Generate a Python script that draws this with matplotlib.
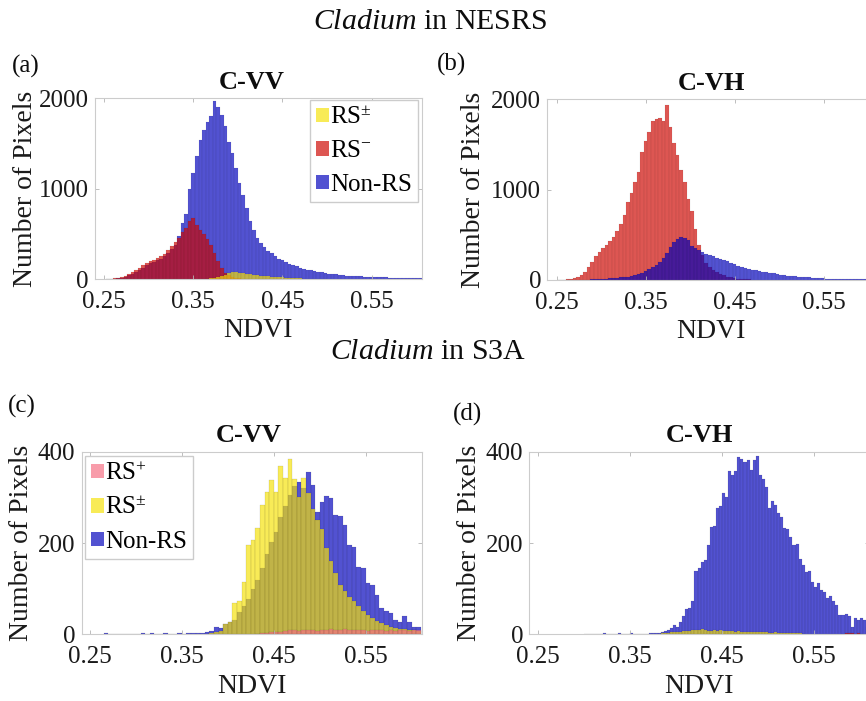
import numpy as np
import matplotlib
matplotlib.use('Agg')
import matplotlib.pyplot as plt
from matplotlib.patches import Patch

plt.rcParams['font.family'] = ['Liberation Serif', 'DejaVu Serif']
plt.rcParams['mathtext.fontset'] = 'custom'
plt.rcParams['mathtext.rm'] = 'Liberation Serif'
plt.rcParams['mathtext.it'] = 'Liberation Serif:italic'
plt.rcParams['mathtext.bf'] = 'Liberation Serif:bold'

# ---- data: bar heights (start = left edge of first bin) ----
# (a) Cladium in NESRS, C-VV
a_width = 0.004
a_blue_start = 0.252
a_blue = [2, 3, 5, 10, 16, 26, 40, 55, 78, 100, 125, 150, 172, 192, 206, 225, 250, 290, 330, 380, 480,
          620, 720, 1000, 1170, 1360, 1540, 1650, 1740, 1800, 1970, 1900, 1810, 1690, 1520, 1400, 1230,
          1060, 930, 790, 640, 540, 450, 400, 350, 315, 285, 250, 225, 205, 185, 165, 150, 140, 125,
          115, 100, 95, 88, 80, 72, 66, 60, 55, 50, 45, 42, 38, 35, 32, 30, 28, 26, 24, 22, 21, 20, 19,
          18, 16, 15, 14, 13, 12, 11, 10, 9, 9, 8]
a_red_start = 0.252
a_red = [0, 2, 6, 14, 24, 38, 55, 75, 100, 125, 150, 175, 200, 215, 232, 250, 280, 320, 365, 410, 455,
         520, 560, 640, 675, 600, 545, 500, 445, 380, 290, 200, 120, 70, 40, 22, 14, 8, 5, 3, 1]
a_yellow_start = 0.360
a_yellow = [2, 4, 8, 14, 22, 32, 48, 62, 74, 80, 70, 62, 56, 52, 46, 42, 37, 33, 29, 26, 23, 20, 17,
            15, 12, 10, 8, 7, 5, 4, 3, 3, 2, 2, 1]

# (b) Cladium in NESRS, C-VH
b_width = 0.004
b_red_start = 0.252
b_red = [0, 3, 8, 14, 20, 32, 55, 90, 140, 200, 265, 310, 350, 390, 430, 480, 545, 620, 720, 860, 960,
         1080, 1200, 1420, 1540, 1640, 1760, 1780, 1790, 1760, 1940, 1690, 1520, 1380, 1220, 1090, 900,
         760, 560, 390, 280, 190, 140, 110, 85, 65, 50, 38, 28, 20, 15, 11, 8, 6, 4, 3, 2, 1]
b_blue_start = 0.252
b_blue = [0, 0, 0, 1, 1, 2, 3, 4, 5, 7, 9, 11, 13, 16, 18, 20, 24, 28, 32, 38, 45, 55, 68, 82, 100, 120,
          140, 170, 200, 240, 300, 360, 420, 450, 480, 460, 440, 380, 350, 330, 315, 290, 280, 270, 245,
          230, 220, 205, 190, 180, 160, 145, 130, 125, 115, 110, 100, 92, 85, 78, 72, 65, 58, 52, 47, 43,
          40, 36, 33, 30, 28, 25, 22, 20, 18, 16, 15, 14, 13, 12, 12, 11, 11, 10, 10, 10, 9, 9, 8]

# (c) Cladium in S3A, C-VV
c_width = 0.005
c_blue_start = 0.265
c_blue = [2, 0, 0, 0, 0, 1, 0, 1, 3, 1, 2, 1, 1, 2, 1, 1, 2, 1, 2, 2, 3, 3, 5, 8, 15, 14, 22, 26, 32,
          48, 62, 78, 100, 118, 145, 175, 203, 225, 258, 280, 305, 325, 334, 320, 356, 328, 269, 290,
          303, 298, 261, 260, 239, 196, 192, 148, 146, 112, 108, 86, 57, 50, 46, 31, 28, 39, 28, 15, 17]
c_yellow_start = 0.375
c_yellow = [1, 2, 4, 8, 22, 28, 68, 72, 115, 196, 207, 232, 283, 311, 338, 312, 369, 342, 384, 340,
            300, 342, 310, 275, 250, 230, 190, 160, 135, 108, 95, 82, 72, 62, 52, 42, 36, 30, 24, 20,
            17, 14, 12, 11, 10, 9, 8]
c_pink_start = 0.430
c_pink = [1, 2, 3, 4, 5, 6, 8, 10, 9, 8, 10, 9, 10, 8, 9, 10, 11, 10, 9, 11, 10, 9, 10, 9, 8, 9, 10,
          9, 8, 9, 8, 10, 9, 8, 10, 9]

# (d) Cladium in S3A, C-VH
d_width = 0.1 / 30
d_blue_start = 0.300
d_blue = [1, 0, 0, 0, 1, 0, 2, 0, 1, 1, 0, 2, 1, 1, 1, 2, 1, 1,
          1, 1, 1, 2, 2, 3, 3, 5, 7, 9, 14, 20, 17, 26, 41, 55, 57, 72, 139, 146, 159, 163, 196, 234,
          237, 276, 282, 310, 301, 358, 350, 358, 389, 385, 378, 381, 360, 382, 391, 350, 340, 323, 276,
          291, 283, 265, 258, 232, 231, 214, 196, 197, 166, 152, 137, 139, 115, 104, 112, 97, 93, 79,
          84, 72, 64, 42, 42, 44, 39, 17, 35, 31, 35, 31, 17]
d_yellow_start = 0.380
d_yellow = [1, 2, 2, 3, 4, 5, 6, 6, 7, 8, 8, 9, 10, 9, 12, 9, 8, 8, 9, 8, 10, 7, 8, 7, 8, 6, 7, 6, 5, 6,
            5, 5, 4, 5, 4, 4, 3, 3, 4, 3, 3, 2, 3, 2, 2, 2, 2, 1]
d_red_start = 0.580
d_red = [1, 2, 3, 2, 1, 2, 1]

xtick_vals = [0.25, 0.35, 0.45, 0.55]
xtick_labels = ['0.25', '0.35', '0.45', '0.55']

# ---- colours: MATLAB-like histograms drawn semi-transparent ----
ALPHA = 0.68
BLUE = (0 / 255, 0 / 255, 188 / 255, ALPHA)
RED = (206 / 255, 6 / 255, 0 / 255, ALPHA)
YELLOW = (246 / 255, 226 / 255, 8 / 255, ALPHA)
PINK = (245 / 255, 110 / 255, 130 / 255, ALPHA)
EDGE = (0.15, 0.15, 0.15, 0.22)


def draw_hist(ax, start, width, counts, color, lw=0.3):
    left = start + width * np.arange(len(counts))
    ax.bar(left, counts, width=width, align='edge', color=color, edgecolor=EDGE, linewidth=lw)


def style(ax, xlim, ymax, yticks, ylab_x, title, title_x):
    ax.set_xlim(*xlim)
    ax.set_ylim(0, ymax)
    ax.set_xticks(xtick_vals)
    ax.set_xticklabels(xtick_labels)
    ax.set_yticks(yticks)
    ax.tick_params(direction='in', length=3, width=0.6, color='0.7', top=True, right=True,
                   labelsize=18, labelcolor='0.1')
    ax.tick_params(axis='x', pad=8.5)
    ax.tick_params(axis='y', pad=4.5)
    for s in ax.spines.values():
        s.set_color('0.8')
        s.set_linewidth(0.8)
    ax.set_ylabel('Number of Pixels', fontsize=20, color='0.1')
    ax.yaxis.set_label_coords(ylab_x, 0.5)
    ax.yaxis.label.set_va('center')
    ax.set_xlabel('NDVI', fontsize=20, color='0.1')
    ax.xaxis.set_label_coords(0.5, -0.285)
    ax.xaxis.label.set_va('center')
    ax.text(title_x, 1.09, title, transform=ax.transAxes, ha='center', va='center',
            fontsize=19, fontweight='bold', color='0.05')


def add_legend(ax, colors, labels, loc, anchor):
    ax.legend([Patch(facecolor=c) for c in colors], labels, loc=loc, bbox_to_anchor=anchor,
              fontsize=18, handlelength=0.5, handleheight=0.5, handletextpad=0.05,
              borderpad=0.25, labelspacing=0.45, borderaxespad=0.0, fancybox=False,
              edgecolor='0.8', framealpha=1)


fig = plt.figure(figsize=(8.66, 7.01), dpi=100)
fig.patch.set_facecolor('white')

W, H = 866, 701


def axes_px(left, top, right, bottom):
    return fig.add_axes([left / W, 1 - bottom / H, (right - left) / W, (bottom - top) / H])


ax_a = axes_px(95, 98.3, 421.7, 279)
ax_b = axes_px(547.3, 99.3, 873.5, 280)
ax_c = axes_px(81.7, 451.7, 421.7, 634.3)
ax_d = axes_px(529.3, 451.7, 869, 634.3)

# (a)
draw_hist(ax_a, a_blue_start, a_width, a_blue, BLUE, lw=0.2)
draw_hist(ax_a, a_red_start, a_width, a_red, RED, lw=0.2)
draw_hist(ax_a, a_yellow_start, a_width, a_yellow, YELLOW, lw=0.2)
style(ax_a, (0.24, 0.606), 2000, [0, 1000, 2000], -0.214, 'C-VV', 0.48)
add_legend(ax_a, [YELLOW, RED, BLUE], [r'RS$^{\pm}$', r'RS$^{-}$', 'Non-RS'],
           'upper right', (0.989, 0.991))

# (b)
draw_hist(ax_b, b_red_start, b_width, b_red, RED, lw=0.2)
draw_hist(ax_b, b_blue_start, b_width, b_blue, BLUE, lw=0.2)
style(ax_b, (0.2395, 0.606), 2000, [0, 1000, 2000], -0.225, 'C-VH', 0.502)

# (c)
draw_hist(ax_c, c_blue_start, c_width, c_blue, BLUE)
draw_hist(ax_c, c_yellow_start, c_width, c_yellow, YELLOW)
draw_hist(ax_c, c_pink_start, c_width, c_pink, PINK)
style(ax_c, (0.241, 0.611), 400, [0, 200, 400], -0.176, 'C-VV', 0.492)
add_legend(ax_c, [PINK, YELLOW, BLUE], [r'RS$^{+}$', r'RS$^{\pm}$', 'Non-RS'],
           'upper left', (0.0097, 0.976))

# (d)
draw_hist(ax_d, d_blue_start, d_width, d_blue, BLUE)
draw_hist(ax_d, d_yellow_start, d_width, d_yellow, YELLOW)
draw_hist(ax_d, d_red_start, d_width, d_red, RED)
style(ax_d, (0.2402, 0.61), 400, [0, 200, 400], -0.175, 'C-VH', 0.5)

# figure-level titles and panel tags
fig.text(430 / W, 1 - 22 / H, r'$\mathit{Cladium}$ in NESRS', ha='center', va='center', fontsize=21.5, color='0.05')
fig.text(428 / W, 1 - 352 / H, r'$\mathit{Cladium}$ in S3A', ha='center', va='center', fontsize=21.5, color='0.05')
for tag, x, y in [('(a)', 26, 66), ('(b)', 451, 64), ('(c)', 22, 406), ('(d)', 467, 414)]:
    fig.text(x / W, 1 - y / H, tag, ha='center', va='center', fontsize=18, color='0.05')

fig.savefig('out.png', dpi=100, facecolor='white')
